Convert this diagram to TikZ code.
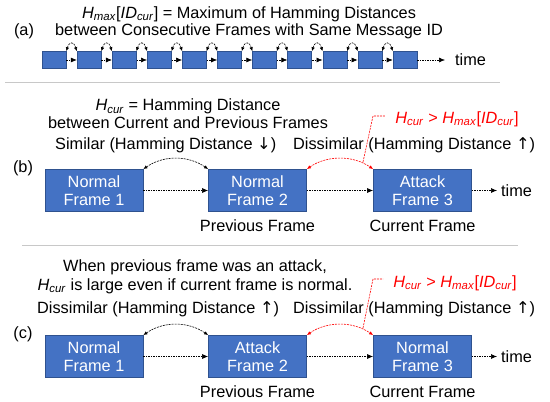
\documentclass[tikz,border=0pt]{standalone}
\usepackage{fontspec}
\setmainfont{Liberation Sans}
\newfontfamily\arrowfont{DejaVu Sans}
\usetikzlibrary{arrows.meta,positioning}
\definecolor{framefill}{RGB}{68,114,196}
\definecolor{frameedge}{RGB}{47,82,143}
\definecolor{rulegray}{RGB}{200,200,200}
\definecolor{alertred}{RGB}{255,0,0}
\newcommand{\hsub}[2]{\textit{#1}\textsubscript{\textit{#2}}}
\newcommand{\hmaxid}{\hsub{H}{max}[\hsub{ID}{cur}]}
\newcommand{\hcurr}{\hsub{H}{cur}}
\newcommand{\upar}{{\arrowfont ↑}}
\newcommand{\downar}{{\arrowfont ↓}}
\begin{document}
\begin{tikzpicture}[x=1pt, y=-1pt,
    txt/.style={font=\fontsize{16.3}{18}\selectfont, inner sep=0pt, align=center},
    framebox/.style={rectangle, draw=frameedge, line width=0.8pt, fill=framefill,
                     text=white, minimum width=98pt, minimum height=42pt, txt},
    tinybox/.style={rectangle, draw=frameedge, line width=0.6pt, fill=framefill,
                    minimum width=24pt, minimum height=17pt, inner sep=0pt},
    flow/.style={-{Latex[length=6pt,width=5pt]}, dash pattern=on 1.5pt off 1pt,
                 line width=0.6pt},
    gaplink/.style={{Latex[length=4pt,width=3.5pt]}-{Latex[length=4pt,width=3.5pt]},
                    dash pattern=on 2pt off 1pt, line width=0.6pt},
    callout/.style={draw=alertred, dash pattern=on 2pt off 1pt, line width=0.6pt},
    divider/.style={draw=rulegray, line width=0.8pt},
  ]
  \useasboundingbox (0,0) rectangle (550,402);
  %% (a) all frames of one ID
  \node[txt, font=\fontsize{16.3}{17}\selectfont] (titleA) at (249,22.5)
        {\hmaxid{} = Maximum of Hamming Distances\\between Consecutive Frames with Same Message ID};
  \node[txt] (labA) at (24,31) {(a)};
  \foreach \i in {0,...,10}{
    \node[tinybox] (a\i) at ({54+35.1*\i},60) {};
  }
  \foreach \i [count=\j from 1] in {0,...,9}{
    \draw[flow] (a\i) -- (a\j);
    \draw[gaplink] (a\i.north east) .. controls +(3,-10) and +(-3,-10) .. (a\j.north west);
  }
  \coordinate (tA) at (445,60);
  \draw[flow] (a10) -- (tA);
  \node[txt, right=10pt of tA] (timeA) {time};
  \coordinate (d1l) at (5,82);
  \coordinate (d1r) at (500,82);
  \draw[divider] (d1l) -- (d1r);
  %% (b) attack frame after normal frames
  \node[txt] (titleB) at (188,114)
        {\hcurr{} = Hamming Distance\\between Current and Previous Frames};
  \node[txt, anchor=west] (simB) at (55,145) {Similar (Hamming Distance \downar)};
  \node[txt, anchor=west] (disB) at (293,145) {Dissimilar (Hamming Distance \upar)};
  \node[txt, text=alertred] (condB) at (457,119) {\hcurr{} > \hmaxid};
  \node[txt] (labB) at (23,168) {(b)};
  \node[framebox] (b1) at (94,190.5) {Normal\\Frame 1};
  \node[framebox] (b2) at (257.5,190.5) {Normal\\Frame 2};
  \node[framebox] (b3) at (422.5,190.5) {Attack\\Frame 3};
  \node[txt, below=8pt of b2] (prevB) {Previous Frame};
  \node[txt, below=8pt of b3] (currB) {Current Frame};
  \draw[flow] (b1) -- (b2);
  \draw[flow] (b2) -- (b3);
  \coordinate (tB) at (497,190.5);
  \draw[flow] (b3) -- (tB);
  \node[txt, right=4pt of tB] (timeB) {time};
  \draw[gaplink] (b1.north east) .. controls +(20,-14) and +(-20,-14) .. (b2.north west);
  \draw[gaplink, alertred] (b2.north east) .. controls +(20,-14) and +(-20,-14) .. (b3.north west);
  \coordinate (cB1) at (363,162);
  \coordinate (cB2) at (373,116);
  \coordinate (cB3) at (385,116);
  \draw[callout] (cB1) -- (cB2) -- (cB3);
  \coordinate (d2l) at (22,245);
  \coordinate (d2r) at (518,245);
  \draw[divider] (d2l) -- (d2r);
  %% (c) normal frame after an attack frame
  \node[txt, font=\fontsize{16.3}{19}\selectfont] (titleC) at (195,276.5)
        {When previous frame was an attack,\\\hcurr{} is large even if current frame is normal.};
  \node[txt, anchor=west] (disC1) at (37,309) {Dissimilar (Hamming Distance \upar)};
  \node[txt, anchor=west] (disC2) at (293,309) {Dissimilar (Hamming Distance \upar)};
  \node[txt, text=alertred] (condC) at (455,283) {\hcurr{} > \hmaxid};
  \node[txt] (labC) at (23,334) {(c)};
  \node[framebox] (c1) at (94,356.5) {Normal\\Frame 1};
  \node[framebox] (c2) at (257.5,356.5) {Attack\\Frame 2};
  \node[framebox] (c3) at (422.5,356.5) {Normal\\Frame 3};
  \node[txt, below=8pt of c2] (prevC) {Previous Frame};
  \node[txt, below=8pt of c3] (currC) {Current Frame};
  \draw[flow] (c1) -- (c2);
  \draw[flow] (c2) -- (c3);
  \coordinate (tC) at (497,356.5);
  \draw[flow] (c3) -- (tC);
  \node[txt, right=4pt of tC] (timeC) {time};
  \draw[gaplink] (c1.north east) .. controls +(20,-14) and +(-20,-14) .. (c2.north west);
  \draw[gaplink, alertred] (c2.north east) .. controls +(20,-14) and +(-20,-14) .. (c3.north west);
  \coordinate (cC1) at (363,328);
  \coordinate (cC2) at (373,279);
  \coordinate (cC3) at (383,279);
  \draw[callout] (cC1) -- (cC2) -- (cC3);
\end{tikzpicture}
\end{document}
